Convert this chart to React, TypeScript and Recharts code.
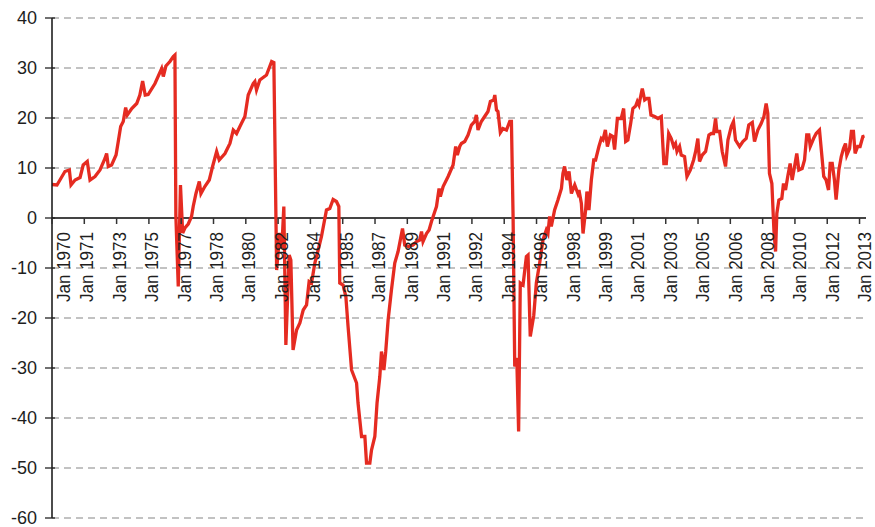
import React from 'react';
import { LineChart, Line, XAxis, YAxis, CartesianGrid, ReferenceLine } from 'recharts';

// time in years since Jan 1970
const YEARS_SINCE_1970 = [
  0.00, 0.27, 0.70, 0.94, 1.03, 1.25, 1.52, 1.69, 1.91, 2.06, 2.33, 2.60, 2.87, 2.96, 3.05, 3.23,
  3.47, 3.59, 3.72, 3.86, 3.99, 4.08, 4.32, 4.59, 4.76, 4.91, 5.05, 5.21, 5.58, 5.94, 6.03, 6.17,
  6.39, 6.57, 6.66, 6.71, 6.84, 6.96, 7.08, 7.20, 7.38, 7.56, 7.65, 7.80, 7.98, 8.07, 8.28, 8.52,
  8.70, 8.92, 9.06, 9.37, 9.64, 9.82, 10.00, 10.18, 10.45, 10.63, 10.90, 10.99, 11.08, 11.26, 11.62,
  11.90, 12.02, 12.17, 12.34, 12.45, 12.56, 12.67, 12.85, 12.94, 13.06, 13.25, 13.43, 13.61, 13.79,
  13.93, 14.06, 14.24, 14.42, 14.60, 14.87, 15.05, 15.23, 15.41, 15.54, 15.59, 15.77, 15.92, 16.04,
  16.23, 16.50, 16.58, 16.77, 16.95, 17.04, 17.22, 17.31, 17.49, 17.61, 17.76, 17.85, 17.98, 18.08,
  18.21, 18.39, 18.57, 18.75, 18.99, 19.11, 19.29, 19.56, 19.75, 19.92, 20.02, 20.10, 20.29, 20.43,
  20.56, 20.74, 20.83, 20.97, 21.04, 21.19, 21.46, 21.73, 21.87, 21.96, 22.09, 22.18, 22.36, 22.54,
  22.72, 22.90, 22.99, 23.08, 23.26, 23.44, 23.62, 23.75, 23.93, 23.99, 24.08, 24.16, 24.29, 24.43,
  24.62, 24.80, 24.89, 24.98, 25.07, 25.18, 25.28, 25.37, 25.52, 25.70, 25.79, 25.91, 26.10, 26.24,
  26.42, 26.60, 26.78, 26.87, 26.96, 27.05, 27.23, 27.41, 27.60, 27.68, 27.77, 27.90, 28.01, 28.14,
  28.32, 28.49, 28.55, 28.68, 28.77, 28.91, 28.98, 29.09, 29.22, 29.35, 29.45, 29.63, 29.76, 29.85,
  29.98, 30.09, 30.25, 30.39, 30.48, 30.63, 30.84, 30.97, 31.08, 31.20, 31.35, 31.47, 31.62, 31.71,
  31.80, 31.89, 31.98, 32.11, 32.23, 32.34, 32.45, 32.65, 32.83, 33.01, 33.06, 33.15, 33.28, 33.41,
  33.55, 33.68, 33.78, 33.86, 34.00, 34.09, 34.27, 34.40, 34.58, 34.76, 34.87, 34.99, 35.08, 35.23,
  35.41, 35.59, 35.72, 35.84, 35.95, 36.02, 36.17, 36.31, 36.49, 36.62, 36.80, 36.92, 37.03, 37.25,
  37.43, 37.61, 37.75, 37.94, 38.06, 38.24, 38.42, 38.57, 38.69, 38.78, 38.87, 39.00, 39.11, 39.20,
  39.27, 39.38, 39.54, 39.63, 39.74, 39.86, 39.99, 40.10, 40.23, 40.35, 40.46, 40.64, 40.77, 40.89,
  41.00, 41.08, 41.26, 41.40, 41.58, 41.73, 41.81, 41.94, 42.07, 42.16, 42.27, 42.39, 42.48, 42.63,
  42.76, 42.88, 42.99, 43.06, 43.21, 43.31, 43.42, 43.51, 43.65, 43.78, 43.93, 44.02,
];

const VALUES = [
  6.7, 6.6, 9.3, 9.6, 6.6, 7.6, 8.1, 10.6, 11.3, 7.6, 8.3, 9.6, 11.9, 12.9, 10.3, 10.6,
  12.6, 15.3, 18.3, 19.3, 22.1, 20.6, 21.9, 22.9, 24.6, 27.4, 24.6, 24.7, 26.9, 29.9, 28.3, 30.4,
  31.3, 32.3, 32.6, 0.5, -13.7, 6.6, -3.0, -2.0, -1.2, 0.3, 2.3, 4.9, 7.3, 4.9, 6.3, 7.6,
  10.3, 13.3, 11.6, 12.9, 14.9, 17.6, 16.9, 18.3, 20.3, 24.6, 26.9, 27.3, 25.6, 27.6, 28.6,
  31.3, 31.1, -10.4, -3.0, -6.0, 2.3, -25.4, -7.4, -8.4, -26.4, -22.4, -21.0, -18.4, -17.4,
  -12.7, -13.0, -9.0, -6.4, -3.7, 1.6, 1.9, 3.7, 3.3, 2.3, -13.0, -13.4, -15.7, -21.7,
  -30.4, -33.0, -37.0, -43.7, -43.7, -49.0, -49.0, -46.4, -43.7, -37.0, -31.7, -26.7, -30.4, -26.7,
  -20.4, -14.4, -9.0, -6.7, -2.1, -5.4, -5.7, -5.4, -4.7, -4.4, -2.7, -4.7, -3.1, -2.4,
  -0.7, 1.3, 2.3, 5.9, 4.3, 6.3, 8.3, 10.6, 14.3, 12.6, 14.3, 14.9, 15.3, 16.6,
  18.6, 19.3, 20.6, 17.6, 19.3, 20.3, 21.3, 23.3, 23.6, 24.6, 21.6, 21.3, 17.1, 17.9,
  17.6, 19.3, 19.3, 0.3, -29.7, -28.0, -42.7, -13.0, -13.4, -7.7, -7.4, -23.7, -19.5, -13.0,
  -9.0, -4.4, -2.4, -3.1, 0.3, -1.7, 1.6, 3.6, 5.9, 8.9, 10.3, 7.6, 9.3, 4.9,
  6.6, 4.9, 5.6, 2.9, -3.1, 1.6, 5.3, 1.6, 7.6, 11.6, 11.6, 14.3, 15.9, 15.6,
  17.6, 14.3, 16.6, 16.3, 13.7, 19.9, 19.9, 21.9, 15.3, 15.6, 18.9, 21.9, 22.4, 23.3,
  22.6, 24.3, 25.9, 23.6, 23.9, 23.9, 20.6, 20.3, 19.9, 20.3, 16.9, 10.9, 10.9, 16.9,
  15.9, 14.3, 14.9, 13.3, 14.3, 12.6, 12.3, 8.3, 9.6, 11.6, 13.3, 15.9, 11.3, 12.6,
  13.3, 16.6, 16.9, 16.9, 19.9, 17.3, 17.3, 13.3, 10.3, 15.6, 18.3, 19.3, 15.6, 14.3,
  15.3, 15.9, 18.6, 19.1, 15.3, 17.6, 18.9, 20.3, 22.9, 20.9, 8.9, 6.9, -2.4, -6.7,
  0.9, 3.6, 3.9, 6.9, 5.6, 8.3, 10.9, 7.6, 10.3, 12.9, 9.6, 9.9, 11.6, 16.6,
  16.6, 14.3, 15.9, 16.9, 17.6, 11.6, 8.3, 7.6, 5.6, 10.9, 10.9, 7.6, 3.7, 9.6,
  12.3, 13.9, 14.9, 12.6, 13.9, 17.3, 17.3, 12.9, 14.3, 14.3, 16.3, 16.4,
];

const TICK_POSITIONS = [
  0, 1.75, 3.5, 5.25, 7, 8.75, 10.5, 12.25, 14, 15.75, 17.5, 19.25, 21,
  22.75, 24.5, 26.25, 28, 29.75, 31.5, 33.25, 35, 36.75, 38.5, 40.25, 42, 43.75,
];
const TICK_LABELS = [
  'Jan 1970', 'Jan 1971', 'Jan 1973', 'Jan 1975', 'Jan 1977', 'Jan 1978', 'Jan 1980',
  'Jan 1982', 'Jan 1984', 'Jan 1985', 'Jan 1987', 'Jan 1989', 'Jan 1991', 'Jan 1992',
  'Jan 1994', 'Jan 1996', 'Jan 1998', 'Jan 1999', 'Jan 2001', 'Jan 2003', 'Jan 2005',
  'Jan 2006', 'Jan 2008', 'Jan 2010', 'Jan 2012', 'Jan 2013',
];
const Y_TICKS = [-60, -50, -40, -30, -20, -10, 0, 10, 20, 30, 40];

const data = YEARS_SINCE_1970.map((t, i) => ({ t, v: VALUES[i] }));

const ZERO_Y = 218; // pixel row of the zero line (top margin 18 + 0.4 * 500)
const AXIS_X = 52;

const XTick = (props: any) => {
  const { x, payload } = props;
  const k = TICK_POSITIONS.indexOf(payload.value);
  const base = k === 0 ? x + 18 : x + 9 + k * 0.11;
  const ty = ZERO_Y + 14;
  return (
    <g>
      <line x1={x} x2={x} y1={ZERO_Y} y2={ZERO_Y + 6} stroke="#333" strokeWidth={1.5} />
      <text
        x={base}
        y={ty}
        transform={`rotate(-90 ${base} ${ty})`}
        textAnchor="end"
        fontSize={19}
        fontFamily="'Liberation Sans Narrow', 'Arial Narrow', 'Liberation Sans', Arial, sans-serif"
        fill="#1e1e1e"
        textLength={70}
        lengthAdjust="spacingAndGlyphs"
      >
        {k >= 0 ? TICK_LABELS[k] : ''}
      </text>
    </g>
  );
};

const YTick = (props: any) => {
  const { y, payload } = props;
  return (
    <g>
      <line x1={AXIS_X - 7} x2={AXIS_X + 3} y1={y} y2={y} stroke="#222" strokeWidth={1.3} />
      <text
        x={37}
        y={y}
        dy="0.36em"
        textAnchor="end"
        fontSize={18}
        fontFamily="'Liberation Sans', Arial, sans-serif"
        fill="#1e1e1e"
      >
        {payload.value}
      </text>
    </g>
  );
};

export default function App() {
  return (
    <div style={{ position: 'absolute', left: 0, top: 0, width: 875, height: 527, background: '#fff' }}>
      <LineChart width={875} height={527} data={data} margin={{ top: 18, right: 9, bottom: 8, left: 0 }}>
        <CartesianGrid vertical={false} strokeDasharray="7 5" stroke="#858585" strokeWidth={1.2} />
        <XAxis
          dataKey="t"
          type="number"
          domain={[0, 44.1]}
          ticks={TICK_POSITIONS}
          interval={0}
          height={1}
          axisLine={false}
          tickLine={false}
          tick={<XTick />}
          allowDataOverflow
        />
        <YAxis
          type="number"
          domain={[-60, 40]}
          ticks={Y_TICKS}
          interval={0}
          width={52}
          axisLine={{ stroke: '#111', strokeWidth: 1.5 }}
          tickLine={false}
          tick={<YTick />}
          allowDataOverflow
        />
        <ReferenceLine y={0} stroke="#444" strokeWidth={2} />
        <Line
          type="linear"
          dataKey="v"
          stroke="#e52b21"
          strokeWidth={3.3}
          dot={false}
          isAnimationActive={false}
        />
      </LineChart>
    </div>
  );
}
